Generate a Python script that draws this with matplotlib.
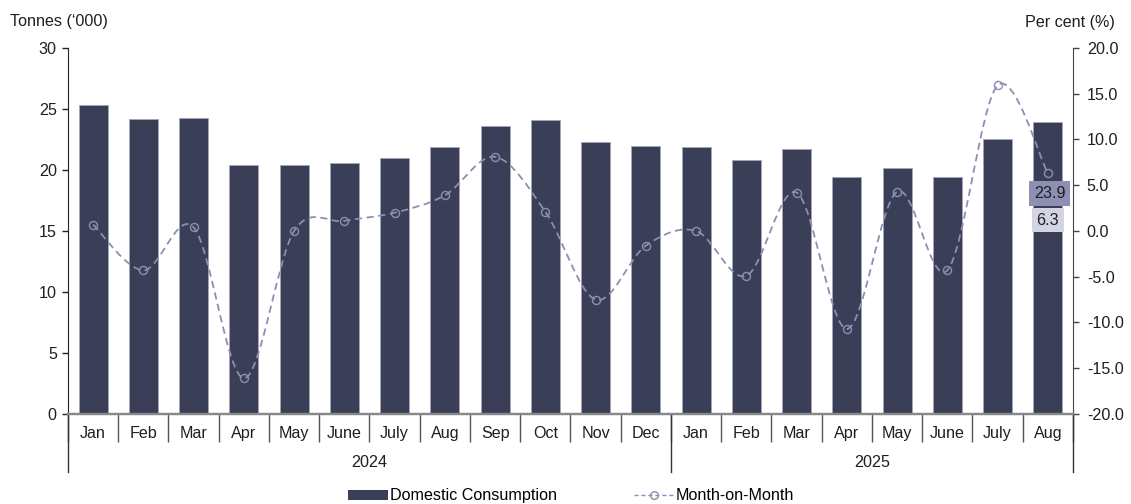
import matplotlib.pyplot as plt
import matplotlib.transforms as mtransforms
from matplotlib.path import Path
from matplotlib.patches import PathPatch, Patch
from matplotlib.lines import Line2D

plt.rcParams['font.family'] = ['Liberation Sans', 'DejaVu Sans']
plt.rcParams['font.size'] = 11.6

months = ['Jan', 'Feb', 'Mar', 'Apr', 'May', 'June', 'July', 'Aug', 'Sep', 'Oct', 'Nov', 'Dec',
          'Jan', 'Feb', 'Mar', 'Apr', 'May', 'June', 'July', 'Aug']
years = ['2024', '2025']
year_spans = [(0, 12), (12, 20)]
consumption = [25.3, 24.2, 24.3, 20.4, 20.4, 20.6, 21.0, 21.9, 23.6, 24.1, 22.3, 22.0,
               21.9, 20.8, 21.7, 19.4, 20.2, 19.4, 22.5, 23.9]
mom = [0.7, -4.3, 0.4, -16.1, 0.0, 1.1, 2.0, 3.9, 8.1, 2.1, -7.5, -1.6,
       0.0, -4.9, 4.2, -10.7, 4.3, -4.3, 15.9, 6.3]

bar_color = '#3b3e57'
line_color = '#8c8fb3'
text_color = '#1e1e1e'

fig = plt.figure(figsize=(11.31, 5.04), dpi=100)
ax = fig.add_axes([0.0601, 0.1786, 0.8886, 0.7262])
ax2 = ax.twinx()

x = [i + 0.5 for i in range(len(months))]
ax.bar(x, consumption, width=0.58, color=bar_color, edgecolor='#a4a6ba', linewidth=0.6)

ax.set_xlim(0, len(months))
ax.set_ylim(0, 30)
ax.set_yticks(range(0, 31, 5))
ax2.set_ylim(-20, 20)
ax2.set_yticks(range(-20, 21, 5))
ax2.set_yticklabels([f'{v:.1f}' for v in range(-20, 21, 5)])

# smoothed month-on-month line (Catmull-Rom segments as cubic Beziers)
pts = list(zip(x, mom))
verts = [pts[0]]
codes = [Path.MOVETO]
for i in range(len(pts) - 1):
    p0 = pts[i - 1] if i > 0 else pts[i]
    p1 = pts[i]
    p2 = pts[i + 1]
    p3 = pts[i + 2] if i + 2 < len(pts) else pts[i + 1]
    c1 = (p1[0] + (p2[0] - p0[0]) / 6, p1[1] + (p2[1] - p0[1]) / 6)
    c2 = (p2[0] - (p3[0] - p1[0]) / 6, p2[1] - (p3[1] - p1[1]) / 6)
    verts += [c1, c2, p2]
    codes += [Path.CURVE4] * 3
ax2.add_patch(PathPatch(Path(verts, codes), fill=False, edgecolor=line_color,
                        linewidth=1.3, linestyle=(0, (4, 2.5))))
ax2.plot(x, mom, linestyle='none', marker='o', markersize=5.8,
         markerfacecolor='none', markeredgecolor=line_color, markeredgewidth=1.0)

# data labels for the latest month
ax.annotate(f'{consumption[-1]:.1f}', (x[-1], consumption[-1]), xytext=(2, -71),
            textcoords='offset pixels', ha='center', va='center', color=text_color,
            bbox=dict(boxstyle='square,pad=0.3', facecolor='#8e90b3', edgecolor='none'))
ax2.annotate(f'{mom[-1]:.1f}', (x[-1], mom[-1]), xytext=(0, -47),
             textcoords='offset pixels', ha='center', va='center', color=text_color,
             bbox=dict(boxstyle='square,pad=0.28', facecolor='#d3d4e2', edgecolor='none'))

# category axis: month boundaries as ticks, names centred between them
ax.set_xticks(range(len(months) + 1))
ax.set_xticklabels([])
ax.set_xticks(x, minor=True)
ax.set_xticklabels(months, minor=True)
ax.tick_params(axis='x', which='major', length=20, width=1.0, color='#555555')
ax.tick_params(axis='x', which='minor', length=0, pad=8.5, labelcolor=text_color)
ax.tick_params(axis='y', length=4, width=1.0, color='#222222', labelcolor=text_color, pad=4)
ax2.tick_params(axis='y', length=4, width=1.0, color='#444444', labelcolor=text_color, pad=6)

trans = mtransforms.blended_transform_factory(ax.transData, ax.transAxes)
for (start, end), year in zip(year_spans, years):
    ax.text((start + end) / 2, -0.133, year, transform=trans, ha='center', va='center',
            color=text_color)
for b in [0, 12, 20]:
    ax.plot([b, b], [0, -0.158], transform=trans, color='#333333', lw=1.0, clip_on=False)

for a in (ax, ax2):
    a.spines['top'].set_visible(False)
    a.spines['bottom'].set_color('#888888')
    a.spines['bottom'].set_linewidth(1.6)
ax.spines['left'].set_color('#222222')
ax2.spines['left'].set_visible(False)
ax.spines['right'].set_visible(False)
ax2.spines['right'].set_color('#444444')

fig.text(0.009, 0.958, "Tonnes (\u2018000)", ha='left', va='center', color=text_color)
fig.text(0.986, 0.955, 'Per cent (%)', ha='right', va='center', color=text_color)

handles = [Patch(facecolor=bar_color, edgecolor='none'),
           Line2D([], [], color=line_color, linestyle=(0, (3, 2)), linewidth=1.0,
                  marker='o', markersize=5.5, markerfacecolor='none', markeredgecolor=line_color)]
fig.legend(handles, ['Domestic Consumption', 'Month-on-Month'], loc='center',
           bbox_to_anchor=(0.505, 0.016), ncol=2, frameon=False, handlelength=2.5,
           handleheight=0.6, handletextpad=0.1, columnspacing=4.8, borderpad=0)

fig.savefig('out.png', dpi=100)
